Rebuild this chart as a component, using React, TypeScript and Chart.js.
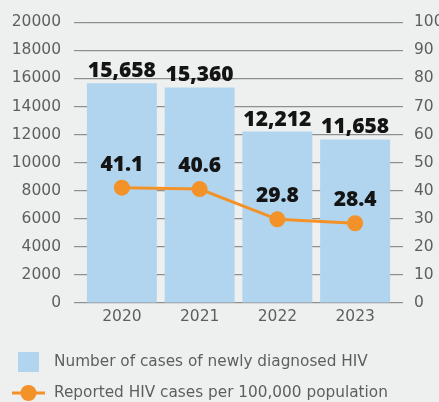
import React, { useEffect, useRef } from "react";
import { Chart, registerables } from "chart.js";

Chart.register(...registerables);

const years = ["2020", "2021", "2022", "2023"];
const newCases = [15658, 15360, 12212, 11658];
const ratePer100k = [41.1, 40.6, 29.8, 28.4];
const leftAxis = { min: 0, max: 20000, step: 2000 };
const rightAxis = { min: 0, max: 100, step: 10 };
const legendTexts = [
  "Number of cases of newly diagnosed HIV",
  "Reported HIV cases per 100,000 population",
];

const BG = "#eef0ef";
const BAR = "#b2d5ef";
const ORANGE = "#f39228";
const GRID = "#8e8e8e";
const TICK = "#5e5e5e";
const TICK_FONT = { family: "'DejaVu Sans'", size: 15.5 };

const valueLabels = {
  id: "valueLabels",
  afterDatasetsDraw(chart: any) {
    const ctx = chart.ctx;
    ctx.save();
    ctx.font = "800 21px 'Open Sans'";
    ctx.fillStyle = "#141414";
    ctx.textAlign = "center";
    ctx.textBaseline = "alphabetic";
    chart.data.datasets.forEach((ds: any, i: number) => {
      const meta = chart.getDatasetMeta(i);
      meta.data.forEach((el: any, j: number) => {
        const v = ds.data[j] as number;
        const isBar = ds.type === "bar";
        const text = isBar ? v.toLocaleString("en-US") : v.toFixed(1);
        ctx.fillText(text, el.x, el.y - (isBar ? 6 : 17));
      });
    });
    ctx.restore();
  },
};

const customLegend = {
  id: "customLegend",
  afterDraw(chart: any) {
    const ctx = chart.ctx;
    const h = chart.height;
    const ds = chart.data.datasets;
    ctx.save();
    ctx.font = "15.3px 'DejaVu Sans'";
    ctx.textAlign = "left";
    ctx.textBaseline = "middle";
    // bar item
    const y1 = h - 40;
    ctx.fillStyle = ds[1].backgroundColor;
    ctx.fillRect(18, y1 - 10, 21, 20);
    ctx.fillStyle = TICK;
    ctx.fillText(ds[1].label, 54, y1);
    // line item
    const y2 = h - 9;
    ctx.strokeStyle = ds[0].borderColor;
    ctx.lineWidth = 3;
    ctx.beginPath();
    ctx.moveTo(12, y2);
    ctx.lineTo(45, y2);
    ctx.stroke();
    ctx.fillStyle = ds[0].pointBackgroundColor;
    ctx.beginPath();
    ctx.arc(28.5, y2, 8, 0, Math.PI * 2);
    ctx.fill();
    ctx.fillStyle = TICK;
    ctx.fillText(ds[0].label, 54, y2);
    ctx.restore();
  },
};

export default function App() {
  const ref = useRef<HTMLCanvasElement | null>(null);

  useEffect(() => {
    document.body.style.margin = "0";
    document.body.style.background = BG;
    const canvas = ref.current;
    if (!canvas) return;
    const chart = new Chart(canvas, {
      type: "bar",
      data: {
        labels: years,
        datasets: [
          {
            type: "line",
            label: legendTexts[1],
            data: ratePer100k,
            yAxisID: "y1",
            borderColor: ORANGE,
            backgroundColor: ORANGE,
            pointBackgroundColor: ORANGE,
            pointBorderWidth: 0,
            pointRadius: 8,
            borderWidth: 3,
            order: 0,
          } as any,
          {
            type: "bar",
            label: legendTexts[0],
            data: newCases,
            yAxisID: "y",
            backgroundColor: BAR,
            borderWidth: 0,
            barPercentage: 0.9,
            categoryPercentage: 1.0,
            order: 1,
          } as any,
        ],
      },
      options: {
        responsive: false,
        animation: false,
        layout: { padding: { top: 20, bottom: 70, left: 0, right: 0 } },
        plugins: {
          legend: { display: false },
          tooltip: { enabled: false },
        },
        scales: {
          x: {
            grid: { display: false, drawTicks: false },
            border: { display: false },
            ticks: { color: TICK, font: TICK_FONT, padding: 5 },
            afterFit: (s: any) => {
              s.height = 29;
            },
          },
          y: {
            position: "left",
            min: leftAxis.min,
            max: leftAxis.max,
            grid: { color: GRID, lineWidth: 1.2, tickLength: 9, drawTicks: true },
            border: { display: false },
            ticks: {
              stepSize: leftAxis.step,
              color: TICK,
              font: TICK_FONT,
              padding: 13,
              callback: (v: any) => String(v),
            },
            afterFit: (s: any) => {
              s.width = 83;
            },
          },
          y1: {
            position: "right",
            min: rightAxis.min,
            max: rightAxis.max,
            grid: {
              color: GRID,
              lineWidth: 1.2,
              tickLength: 9,
              drawOnChartArea: false,
              drawTicks: true,
            },
            border: { display: false },
            ticks: {
              stepSize: rightAxis.step,
              color: TICK,
              font: TICK_FONT,
              padding: 11,
              callback: (v: any) => String(v),
            },
            afterFit: (s: any) => {
              s.width = 45;
            },
          },
        },
      } as any,
      plugins: [valueLabels, customLegend],
    });
    return () => chart.destroy();
  }, []);

  return (
    <div style={{ width: 439, height: 402, background: BG }}>
      <canvas ref={ref} width={439} height={402} style={{ display: "block" }} />
    </div>
  );
}
